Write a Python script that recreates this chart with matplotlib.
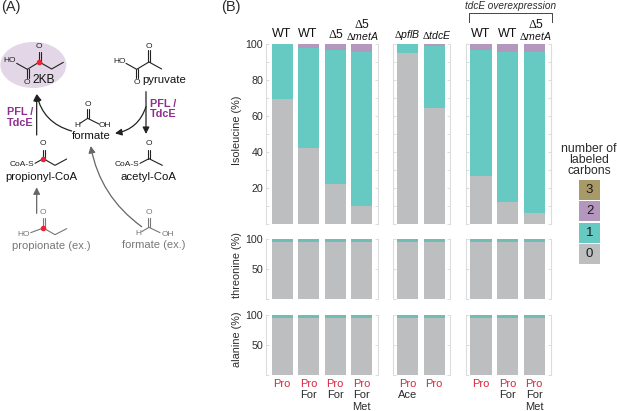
import matplotlib
matplotlib.use('Agg')
import matplotlib.pyplot as plt
from matplotlib.patches import Ellipse, FancyArrowPatch, Rectangle

plt.rcParams['font.family'] = ['Liberation Sans', 'DejaVu Sans']
plt.rcParams['mathtext.fontset'] = 'custom'
plt.rcParams['mathtext.rm'] = 'Liberation Serif'
plt.rcParams['mathtext.it'] = 'Liberation Sans:italic'
plt.rcParams['mathtext.fallback'] = 'cm'

W, H = 617, 411

#%% Data (percent of each isotopologue, one value per bar)

iso_0 = [69.3, 42, 22, 10.2, 94.8, 64.3, 26.9, 12, 5.9]
iso_1 = [30.7, 56, 74.9, 85.5, 5.2, 34.7, 69.8, 83.7, 89.8]
iso_2 = [0, 2, 3.1, 4.3, 0, 1, 3.3, 4.3, 4.3]

thr_0 = [95] * 9
thr_1 = [5] * 9

ala_0 = [95.6] * 9
ala_1 = [4.4] * 9

carbon_labels = ['3', '2', '1', '0']
tracers = [['Pro'], ['Pro', 'For'], ['Pro', 'For'], ['Pro', 'For', 'Met'],
           ['Pro', 'Ace'], ['Pro'],
           ['Pro'], ['Pro', 'For'], ['Pro', 'For', 'Met']]

GRAY, TEAL, PURPLE, GOLD = '#bdbec0', '#66c9c2', '#b497bd', '#a89a68'
TEAL_DARK = '#70bdb3'
SPINE = '#dcdcdc'
TXT = '#2b2b2b'
RED = '#d9263f'
MAGENTA = '#8e2f8f'

fig = plt.figure(figsize=(W / 100, H / 100), dpi=100)


def px_axes(x0, x1, ytop, ybot):
    return fig.add_axes([x0 / W, 1 - ybot / H, (x1 - x0) / W, (ybot - ytop) / H])


#%% Bar panels

groups = [(266, 378, 0, 4, (-0.61, 3.62)),
          (393, 450, 4, 6, (-0.56, 1.6)),
          (465.7, 550.7, 6, 9, (-0.58, 2.62))]
rows = [(44, 224, [iso_0, iso_1, iso_2], [GRAY, TEAL, PURPLE], range(0, 101, 10),
         [20, 40, 60, 80, 100], 'Isoleucine (%)'),
        (239, 299, [thr_0, thr_1], [GRAY, TEAL_DARK], [0, 50, 100], [50, 100], 'threonine (%)'),
        (315, 375, [ala_0, ala_1], [GRAY, TEAL_DARK], [0, 50, 100], [50, 100], 'alanine (%)')]

for r, (ytop, ybot, stack, colors, ticks, labelled, ylabel) in enumerate(rows):
    for g, (x0, x1, start, stop, lim) in enumerate(groups):
        ax = px_axes(x0, x1, ytop, ybot)
        xs = list(range(stop - start))
        bottom = [0] * len(xs)
        for vals, col in zip(stack, colors):
            v = vals[start:stop]
            ax.bar(xs, v, width=0.8, bottom=bottom, color=col, linewidth=0)
            bottom = [b + h for b, h in zip(bottom, v)]
        ax.set_xlim(lim)
        ax.set_ylim(0, 100)
        ax.set_xticks([])
        ax.set_yticks(list(ticks))
        ax.set_yticklabels([str(t) if (t in labelled and g == 0) else '' for t in ticks],
                           fontsize=7.7, color=TXT)
        ax.tick_params(axis='y', direction='in', length=2, width=0.7, color=SPINE,
                       left=True, right=True, pad=2)
        ax.patch.set_alpha(0)
        ax.spines['top'].set_visible(False)
        ax.spines['bottom'].set_visible(False)
        for s in ('left', 'right'):
            ax.spines[s].set_color(SPINE)
            ax.spines[s].set_linewidth(0.8)
        if r == 2:
            for i, names in enumerate(tracers[start:stop]):
                for k, name in enumerate(names):
                    ax.annotate(name, xy=(i, 0), xycoords=('data', 'axes fraction'),
                                xytext=(0, -6.5 - k * 8.2), textcoords='offset points',
                                ha='center', va='center', fontsize=8,
                                color=RED if k == 0 else TXT)

#%% Overlay in pixel coordinates for the schematic and the annotations

ov = fig.add_axes([0, 0, 1, 1], zorder=5)
ov.set_xlim(0, W)
ov.set_ylim(H, 0)
ov.axis('off')


def label(x, y, s, size=8.4, color='#111111', **kw):
    ov.text(x, y, s, fontsize=size, color=color, ha=kw.pop('ha', 'center'), va='center', **kw)


ylabel_pos = [130, 265, 339]
for row, yc in zip(rows, ylabel_pos):
    label(237, yc, row[6], size=7.8, color=TXT, rotation=90)

label(282, 34, 'WT', size=9)
label(307.7, 34, 'WT', size=9)
label(335.7, 35, r'$\mathrm{\Delta}$5', size=8.8)
label(362, 24, r'$\mathrm{\Delta}$5', size=8.8)
label(362, 36, r'$\mathrm{\Delta}\mathit{metA}$', size=7.6)
label(407, 35, r'$\mathrm{\Delta}\mathit{pflB}$', size=7.6)
label(436.7, 35, r'$\mathrm{\Delta}\mathit{tdcE}$', size=7.6)
label(481, 34, 'WT', size=9)
label(508, 34, 'WT', size=9)
label(535.7, 24, r'$\mathrm{\Delta}$5', size=8.8)
label(535.7, 36, r'$\mathrm{\Delta}\mathit{metA}$', size=7.6)

label(511, 6, 'tdcE overexpression', size=7.2, style='italic', color=TXT)
ov.plot([468.7, 468.7, 552, 552], [21.7, 12.7, 12.7, 21.7], color='#444444', lw=0.7)

label(1, 7, '(A)', size=10.5, ha='left', color=TXT)
label(231, 7, '(B)', size=10.5, color=TXT)

# legend boxes
label(589, 149, 'number of', size=8.8, color=TXT)
label(589, 160, 'labeled', size=8.8, color=TXT)
label(589, 171, 'carbons', size=8.8, color=TXT)
box_tops = [180, 201, 222.7, 244]
for top, col, name in zip(box_tops, [GOLD, PURPLE, TEAL, GRAY], carbon_labels):
    ov.add_patch(Rectangle((579.3, top), 20.7, 20.3, facecolor=col, edgecolor='none'))
    label(589.6, top + 10.2, name, size=9.5, color='#1a1a1a')

#%% Schematic (coordinates in units of 1/3 pixel)

ov.add_patch(Ellipse((33.3, 65), 66, 46, facecolor='#e3d6e6', edgecolor='none'))


def z(p):
    return p[0] / 3, p[1] / 3


def chain(points, color='#222222'):
    xs, ys = zip(*[z(p) for p in points])
    ov.plot(xs, ys, color=color, lw=0.8, solid_capstyle='round')


def double(p, q, dx=2.2, color='#222222'):
    chain([(p[0] - dx, p[1]), (q[0] - dx, q[1])], color)
    chain([(p[0] + dx + 2, p[1]), (q[0] + dx + 2, q[1])], color)


def small(p, s, color='#222222', size=6):
    x, y = z(p)
    label(x, y, s, size=size, color=color)


def dot(p):
    x, y = z(p)
    ov.plot([x], [y], 'o', ms=4, color='#ee2233', mew=0, zorder=6)


def arrow(p, q, color='#222222', rad=0.0):
    ov.add_patch(FancyArrowPatch(z(p), z(q), arrowstyle='-|>', mutation_scale=10,
                                 connectionstyle=f'arc3,rad={rad}', color=color,
                                 lw=0.9, shrinkA=0, shrinkB=0))


G = '#777777'

# 2KB
small((30, 183), 'HO')
chain([(50, 190), (82, 208), (118, 186), (155, 207), (190, 187)])
double((118, 186), (118, 155))
double((82, 208), (82, 235))
small((118, 140), 'O')
small((82, 248), 'O')
dot((118, 186))
label(130 / 3, 240 / 3, '2KB', size=8.6)

# pyruvate
small((358, 185), 'HO')
chain([(378, 190), (410, 208), (447, 186), (485, 207)])
double((447, 186), (447, 150))
double((410, 208), (410, 235))
small((447, 140), 'O')
small((410, 248), 'O')
label(492 / 3, 241 / 3, 'pyruvate', size=8.2)

# formate
small((263, 314), 'O')
small((231, 376), 'H')
small((315, 376), 'OH')
chain([(240, 370), (263, 355), (297, 372)])
double((263, 355), (263, 328))
label(273 / 3, 408 / 3, 'formate', size=8.2)

# propionyl-CoA
small((65, 492), 'CoA-S')
chain([(105, 490), (130, 476), (165, 496), (200, 477)])
double((130, 476), (130, 450))
small((130, 431), 'O')
dot((130, 476))
label(123 / 3, 530 / 3, 'propionyl-CoA', size=8.2)

# acetyl-CoA
small((382, 492), 'CoA-S')
chain([(420, 490), (447, 476), (487, 496)])
double((447, 476), (447, 450))
small((447, 431), 'O')
label(445 / 3, 530 / 3, 'acetyl-CoA', size=8.2)

# propionate (ex.)
small((130, 638), 'O', color=G)
small((72, 704), 'HO', color=G)
chain([(92, 698), (130, 684), (165, 704), (200, 686)], color=G)
double((130, 684), (130, 655), color=G)
dot((130, 684))
label(155 / 3, 738 / 3, 'propionate (ex.)', size=8, color=G)

# formate (ex.)
small((447, 638), 'O', color=G)
small((415, 700), 'H', color=G)
small((505, 702), 'OH', color=G)
chain([(425, 695), (447, 682), (480, 698)], color=G)
double((447, 682), (447, 655), color=G)
label(462 / 3, 735 / 3, 'formate (ex.)', size=8, color=G)

# arrows
arrow((110, 640), (110, 562), color='#666666')
arrow((110, 405), (110, 282))
arrow((215, 393), (110, 282), rad=-0.3)
arrow((438, 275), (438, 402))
arrow((438, 320), (345, 400), rad=-0.3)
arrow((425, 680), (272, 438), color='#666666', rad=-0.2)

for x, y, s in [(60, 336, 'PFL /'), (60, 369, 'TdcE'), (490, 312, 'PFL /'), (490, 343, 'TdcE')]:
    label(x / 3, y / 3, s, size=7.8, color=MAGENTA, weight='bold')

fig.savefig('out.png', dpi=100)
